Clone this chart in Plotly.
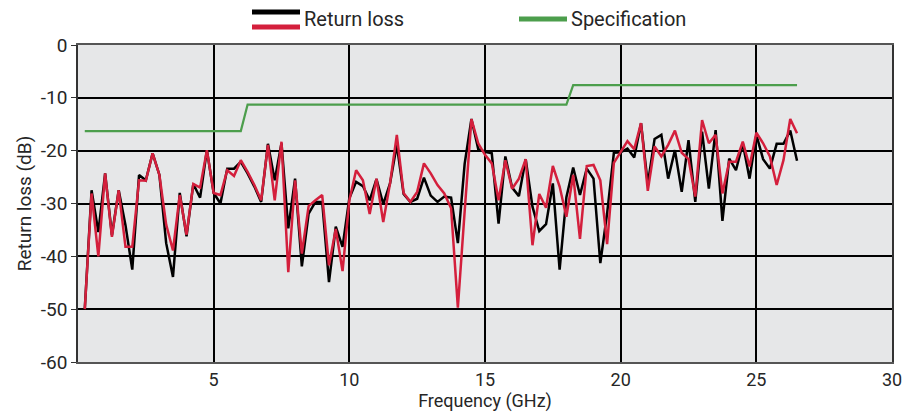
import plotly.graph_objects as go

freq_ghz = [round(0.25 * k, 2) for k in range(1, 107)]

return_loss_black = [
    -50.0, -27.5, -35.4, -24.3, -36.0, -27.5, -34.1, -42.5, -24.6, -25.6,
    -20.5, -24.6, -37.5, -43.9, -28.0, -36.2, -26.3, -28.9, -19.9, -28.0,
    -30.0, -23.4, -23.4, -22.1, -24.3, -26.8, -29.7, -18.7, -25.6, -18.6,
    -34.7, -25.3, -41.9, -31.9, -29.7, -29.7, -44.9, -34.4, -38.2, -29.0,
    -25.9, -26.7, -29.4, -25.4, -30.1, -26.2, -18.9, -28.2, -29.7, -29.1,
    -25.1, -28.5, -29.7, -28.7, -28.9, -37.5, -22.5, -14.0, -19.7, -20.2,
    -20.5, -33.8, -21.1, -27.0, -28.6, -21.6, -30.6, -35.2, -33.9, -26.2,
    -42.5, -28.8, -23.2, -28.4, -23.4, -25.3, -41.3, -31.9, -20.4, -20.3,
    -19.6, -21.3, -14.8, -26.3, -17.8, -17.0, -25.3, -19.9, -27.8, -18.0,
    -29.7, -16.4, -27.2, -16.1, -33.3, -21.5, -23.7, -18.6, -25.3, -17.0,
    -21.6, -23.4, -18.7, -18.7, -16.2, -21.9,
]

return_loss_red = [
    -50.0, -28.1, -40.0, -24.3, -36.3, -27.5, -38.2, -38.2, -25.6, -25.7,
    -20.5, -24.6, -34.0, -38.9, -28.4, -35.9, -26.3, -27.0, -19.9, -28.0,
    -28.4, -23.7, -24.8, -21.8, -24.0, -26.5, -29.4, -18.9, -29.4, -18.3,
    -43.0, -25.6, -39.5, -30.5, -29.4, -28.4, -41.7, -34.8, -42.8, -29.4,
    -23.7, -25.6, -32.0, -25.3, -33.5, -26.2, -17.0, -28.0, -29.7, -27.8,
    -22.4, -24.3, -26.5, -28.1, -30.9, -49.7, -31.5, -14.0, -18.6, -20.8,
    -22.4, -29.4, -21.8, -27.2, -25.3, -21.6, -37.9, -28.2, -30.8, -22.9,
    -26.8, -32.5, -24.6, -36.7, -22.9, -22.7, -25.6, -37.7, -22.3, -20.3,
    -18.2, -19.7, -14.8, -27.6, -19.2, -21.1, -18.9, -16.2, -20.4, -21.6,
    -28.7, -14.2, -18.6, -17.0, -28.1, -22.1, -22.1, -18.3, -23.0, -16.6,
    -18.6, -21.1, -26.5, -21.8, -14.0, -16.7,
]

spec_x = [0.25, 6.0, 6.25, 18.0, 18.25, 26.5]
spec_y = [-16.3, -16.3, -11.3, -11.3, -7.6, -7.6]

x_tick_vals = [5, 10, 15, 20, 25, 30]
x_tick_text = ["5", "10", "15", "20", "25", "30"]
y_tick_vals = [0, -10, -20, -30, -40, -50, -60]
y_tick_text = ["0", "-10", "-20", "-30", "-40", "-50", "-60"]

BLACK = "#000000"
RED = "#d41f3c"
GREEN = "#4c9e4c"
FONT = "Roboto"
TXT = "#262626"

fig = go.Figure()
fig.add_trace(go.Scatter(x=spec_x, y=spec_y, mode="lines", name="Specification",
                         line=dict(color=GREEN, width=2.2), showlegend=False))
fig.add_trace(go.Scatter(x=freq_ghz, y=return_loss_black, mode="lines", name="Return loss",
                         line=dict(color=BLACK, width=2.5), showlegend=False))
fig.add_trace(go.Scatter(x=freq_ghz, y=return_loss_red, mode="lines", name="Return loss",
                         line=dict(color=RED, width=2.5), showlegend=False))

# custom legend drawn in paper coordinates (page pixel targets)
L, R_, T, B = 78, 892, 45, 362
def px(x):
    return (x - L) / (R_ - L)
def py(y):
    return (B - y) / (B - T)

shapes = [
    dict(type="line", xref="paper", yref="paper", x0=px(252), x1=px(300), y0=py(12), y1=py(12),
         line=dict(color=BLACK, width=5)),
    dict(type="line", xref="paper", yref="paper", x0=px(252), x1=px(300), y0=py(27), y1=py(27),
         line=dict(color=RED, width=5)),
    dict(type="line", xref="paper", yref="paper", x0=px(519), x1=px(567), y0=py(19), y1=py(19),
         line=dict(color=GREEN, width=5)),
]
annotations = [
    dict(xref="paper", yref="paper", x=px(302), y=py(19), text="Return loss", showarrow=False,
         xanchor="left", yanchor="middle", font=dict(family=FONT, size=20, color=TXT)),
    dict(xref="paper", yref="paper", x=px(569), y=py(19), text="Specification", showarrow=False,
         xanchor="left", yanchor="middle", font=dict(family=FONT, size=20, color=TXT)),
]

fig.update_layout(
    width=904, height=404,
    margin=dict(l=70, r=20, t=37, b=50, autoexpand=False),
    paper_bgcolor="white",
    plot_bgcolor="#e6e7e8",
    font=dict(family=FONT, size=18, color=TXT),
    shapes=shapes,
    annotations=annotations,
    showlegend=False,
    xaxis=dict(
        range=[0, 30], tickvals=x_tick_vals, ticktext=x_tick_text,
        showgrid=True, gridcolor=BLACK, gridwidth=1.5,
        showline=True, linecolor="#555", linewidth=2, mirror=True,
        ticks="", zeroline=False, automargin=False,
        title=dict(text="Frequency (GHz)", standoff=0, font=dict(size=18)),
        tickfont=dict(size=18),
    ),
    yaxis=dict(
        range=[-60, 0], tickvals=y_tick_vals, ticktext=y_tick_text,
        showgrid=True, gridcolor=BLACK, gridwidth=1.5,
        showline=True, linecolor="#333", linewidth=1.5, mirror=True,
        ticks="outside", ticklen=5, tickcolor="#333",
        zeroline=False, automargin=False,
        title=dict(text="Return loss (dB)", standoff=4, font=dict(size=19)),
        tickfont=dict(size=19),
    ),
)

fig.write_html("out.html")
